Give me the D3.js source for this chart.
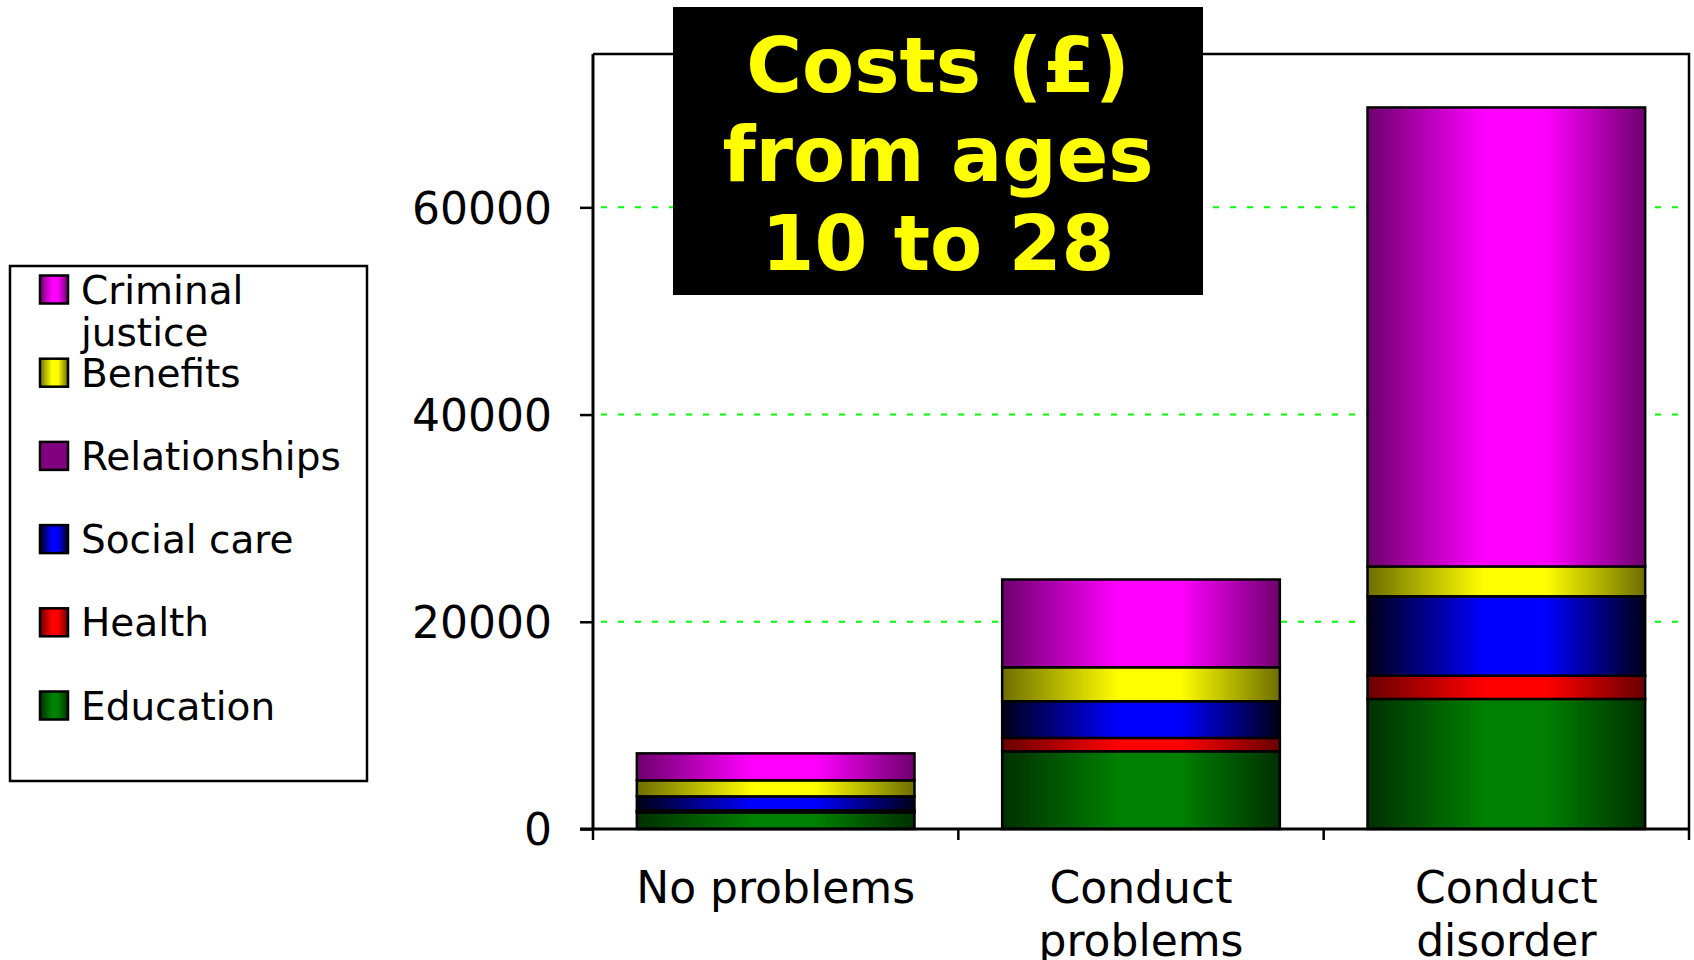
<!DOCTYPE html>
<html>
<head>
<meta charset="utf-8">
<script src="https://cdn.jsdelivr.net/npm/d3@7"></script>
<style>
  body { margin: 0; background: #fff; }
  svg { display: block; font-family: "DejaVu Sans", Verdana, sans-serif; }
</style>
</head>
<body>
<div id="chart"></div>
<script>
// categories along the x axis
var categories = ["No problems", "Conduct problems", "Conduct disorder"];

// stack order, bottom to top
var seriesNames = ["Education", "Health", "Social care", "Relationships", "Benefits", "Criminal justice"];

// costs in pounds, one value per category
var education       = [1600, 7500, 12550];
var health          = [200, 1290, 2250];
var socialCare      = [1350, 3540, 7660];
var relationships   = [0, 0, 0];
var benefits        = [1550, 3280, 2880];
var criminalJustice = [2600, 8470, 44300];

var yTicks = [0, 20000, 40000, 60000];
var legendOrder = ["Criminal justice", "Benefits", "Relationships", "Social care", "Health", "Education"];

var seriesValues = {
  "Education": education,
  "Health": health,
  "Social care": socialCare,
  "Relationships": relationships,
  "Benefits": benefits,
  "Criminal justice": criminalJustice
};

// dark edge / bright centre for each series (relationships is flat)
var palette = {
  "Education":        ["#003000", "#008000"],
  "Health":           ["#6a0000", "#ff0000"],
  "Social care":      ["#000018", "#0000ff"],
  "Relationships":    ["#800080", "#800080"],
  "Benefits":         ["#6e6e00", "#ffff00"],
  "Criminal justice": ["#6e006e", "#ff00ff"]
};

var width = 1694, height = 960;
var margin = {top: 54, right: 5, bottom: 131, left: 593};
var innerW = width - margin.left - margin.right,
    innerH = height - margin.top - margin.bottom;

var svg = d3.select("#chart").append("svg")
    .attr("width", width)
    .attr("height", height);

// gradients
var defs = svg.append("defs");
seriesNames.forEach(function(name, i){
  var g = defs.append("linearGradient")
      .attr("id", "grad" + i)
      .attr("x1", "0").attr("x2", "1").attr("y1", "0").attr("y2", "0");
  var c = palette[name];
  g.append("stop").attr("offset", "0").attr("stop-color", c[0]);
  g.append("stop").attr("offset", "0.42").attr("stop-color", c[1]);
  g.append("stop").attr("offset", "0.64").attr("stop-color", c[1]);
  g.append("stop").attr("offset", "1").attr("stop-color", c[0]);
});

var table = categories.map(function(cat, j){
  var row = {category: cat};
  seriesNames.forEach(function(s){ row[s] = seriesValues[s][j]; });
  return row;
});

var stacked = d3.stack().keys(seriesNames)(table);

var x = d3.scaleBand()
    .domain(categories)
    .range([0, innerW])
    .paddingInner(0.24)
    .paddingOuter(0.12);

var y = d3.scaleLinear()
    .domain([0, 74800])
    .range([innerH, 0]);

var g = svg.append("g")
    .attr("transform", "translate(" + margin.left + "," + margin.top + ")");

// gridlines
g.selectAll(".grid")
  .data(yTicks.filter(function(d){ return d > 0; }))
  .enter().append("line")
    .attr("class", "grid")
    .attr("x1", 8).attr("x2", innerW)
    .attr("y1", function(d){ return y(d); })
    .attr("y2", function(d){ return y(d); })
    .style("stroke", "#00ff00")
    .style("stroke-width", 2)
    .style("stroke-dasharray", "6,11");

// plot frame (top and right)
g.append("path")
  .attr("d", "M0,0H" + innerW + "V" + innerH)
  .style("fill", "none")
  .style("stroke", "#000")
  .style("stroke-width", 2.5);

// bars
var layers = g.selectAll(".layer")
  .data(stacked)
  .enter().append("g")
    .attr("class", "layer")
    .style("fill", function(d, i){ return "url(#grad" + i + ")"; });

layers.selectAll("rect")
  .data(function(d){ return d; })
  .enter().append("rect")
    .attr("x", function(d){ return x(d.data.category); })
    .attr("width", x.bandwidth())
    .attr("y", function(d){ return y(d[1]); })
    .attr("height", function(d){ return y(d[0]) - y(d[1]); })
    .style("stroke", "#000")
    .style("stroke-width", 2.5);

// y axis
var yAxis = g.append("g")
  .call(d3.axisLeft(y).tickValues(yTicks).tickSize(13).tickPadding(28).tickFormat(d3.format("d")));
yAxis.select(".domain").attr("d", "M0,0V" + innerH).style("stroke-width", 3);
yAxis.selectAll(".tick line").style("stroke-width", 2.5);
yAxis.selectAll("text")
  .style("font-size", "44px")
  .style("font-family", "DejaVu Sans, Verdana, sans-serif")
  .style("fill", "#000")
  .attr("dy", "0.36em");

// x axis: line with ticks at category boundaries
var bounds = [0].concat(categories.map(function(c){ return x(c) + x.bandwidth() + x.step() * 0.12; }));
var xAxis = g.append("g").attr("transform", "translate(0," + innerH + ")");
xAxis.append("line")
  .attr("x1", -13).attr("x2", innerW)
  .style("stroke", "#000").style("stroke-width", 3);
xAxis.selectAll(".xtick")
  .data(bounds)
  .enter().append("line")
    .attr("x1", function(d){ return d; })
    .attr("x2", function(d){ return d; })
    .attr("y1", 0).attr("y2", 11)
    .style("stroke", "#000").style("stroke-width", 2.5);

var xLabels = xAxis.selectAll(".xlabel")
  .data(categories)
  .enter().append("text")
    .attr("class", "xlabel")
    .attr("x", function(d){ return x(d) + x.bandwidth() / 2; })
    .attr("y", 74)
    .attr("text-anchor", "middle")
    .style("font-size", "44px")
    .style("fill", "#000");

// wrap labels wider than the band
xLabels.each(function(d){
  var t = d3.select(this);
  t.text(d);
  if (this.getComputedTextLength() > x.step() - 10) {
    var words = d.split(" ");
    t.text(null);
    words.forEach(function(w, k){
      t.append("tspan")
        .attr("x", x(d) + x.bandwidth() / 2)
        .attr("dy", k === 0 ? 0 : "1.2em")
        .text(w);
    });
  }
});

// title box
svg.append("rect")
  .attr("x", 673).attr("y", 7)
  .attr("width", 530).attr("height", 288)
  .style("fill", "#000");

var titleLines = ["Costs (£)", "from ages", "10 to 28"];
svg.append("g").selectAll("text")
  .data(titleLines)
  .enter().append("text")
    .attr("x", 938)
    .attr("y", function(d, i){ return 92 + i * 89; })
    .attr("text-anchor", "middle")
    .text(function(d){ return d; })
    .style("font-size", "76px")
    .style("font-weight", "bold")
    .style("fill", "#ffff00");

// legend
var legend = svg.append("g").attr("transform", "translate(10,266)");
legend.append("rect")
  .attr("width", 357).attr("height", 515)
  .style("fill", "#fff")
  .style("stroke", "#000")
  .style("stroke-width", 2.5);

var items = legend.selectAll(".item")
  .data(legendOrder)
  .enter().append("g")
    .attr("class", "item")
    .attr("transform", function(d, i){ return "translate(30," + (23.5 + i * 83.2) + ")"; });

items.append("rect")
  .attr("x", 0).attr("y", -14)
  .attr("width", 28).attr("height", 28)
  .style("fill", function(d){ return "url(#grad" + seriesNames.indexOf(d) + ")"; })
  .style("stroke", "#000")
  .style("stroke-width", 2.5);

items.append("text")
  .attr("x", 41)
  .attr("y", 14)
  .style("font-size", "39px")
  .style("fill", "#000")
  .each(function(d){
    var t = d3.select(this);
    var parts = d === "Criminal justice" ? ["Criminal", "justice"] : [d];
    parts.forEach(function(p, k){
      t.append("tspan").attr("x", 41).attr("dy", k === 0 ? 0 : 42).text(p);
    });
  });
</script>
</body>
</html>
